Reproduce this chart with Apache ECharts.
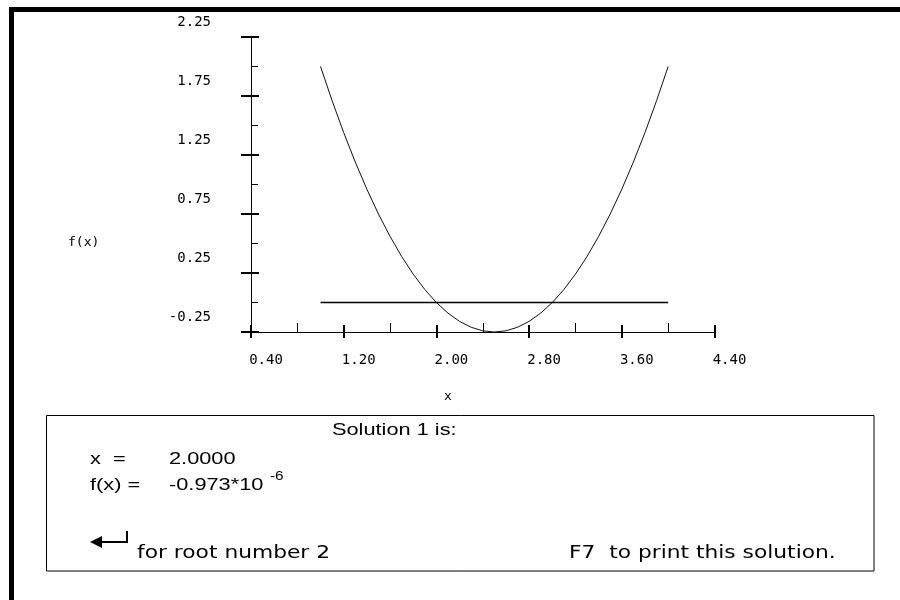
<!DOCTYPE html>
<html>
<head>
<meta charset="utf-8">
<script src="https://cdn.jsdelivr.net/npm/echarts@6/dist/echarts.min.js"></script>
<style>html,body{margin:0;padding:0;background:#fff}#c{width:900px;height:600px}</style>
</head>
<body>
<div id="c"></div>
<script>
// Data
const xValues = [1.0,1.1,1.2,1.3,1.4,1.5,1.6,1.7,1.8,1.9,2.0,2.1,2.2,2.3,2.4,2.5,2.6,2.7,2.8,2.9,3.0,3.1,3.2,3.3,3.4,3.5,3.6,3.7,3.8,3.9,4.0];
const fValues = [2.00,1.71,1.44,1.19,0.96,0.75,0.56,0.39,0.24,0.11,0.00,-0.09,-0.16,-0.21,-0.24,-0.25,-0.24,-0.21,-0.16,-0.09,0.00,0.11,0.24,0.39,0.56,0.75,0.96,1.19,1.44,1.71,2.00];
const zeroLineX = [1.0, 4.0];
const zeroLineY = [0, 0];
const xTickLabels = ['0.40','1.20','2.00','2.80','3.60','4.40'];
const yTickLabels = ['-0.25','0.25','0.75','1.25','1.75','2.25'];
const xAxisName = 'x';
const yAxisName = 'f(x)';
const solutionTitle = 'Solution 1 is:';
const solutionX = '2.0000';
const solutionF = '-0.973*10';
const solutionExp = '-6';
const nextHint = 'for root number 2';
const printHint = 'F7  to print this solution.';

const curveData = xValues.map((x, i) => [x, fValues[i]]);
const zeroData = zeroLineX.map((x, i) => [x, zeroLineY[i]]);

const mono = 'DejaVu Sans Mono';
const xMin = parseFloat(xTickLabels[0]), xMax = parseFloat(xTickLabels[xTickLabels.length-1]);
const yMin = parseFloat(yTickLabels[0]), yMax = parseFloat(yTickLabels[yTickLabels.length-1]);
const xStep = parseFloat(xTickLabels[1]) - xMin;
const yStep = parseFloat(yTickLabels[1]) - yMin;

const chart = echarts.init(document.getElementById('c'), null, {renderer: 'canvas'});
const SX = 1.28;
function txt(x, y, s, font, size, extra) {
  return Object.assign({
    type: 'text', x: x, y: y, scaleX: SX, scaleY: 1,
    style: {text: s, x: 0, y: 0, fill: '#000', font: size + 'px "' + font + '"', textAlign: 'left', textVerticalAlign: 'middle'}
  }, extra || {});
}
chart.setOption({
  animation: false,
  backgroundColor: '#fff',
  grid: {left: 251, top: 37, width: 463.5, height: 295, containLabel: false},
  xAxis: [{
    type: 'value', min: xMin, max: xMax, interval: xStep, position: 'bottom',
    axisLine: {show: true, onZero: false, lineStyle: {color: '#000', width: 1}},
    axisTick: {show: true, inside: true, length: 7, lineStyle: {color: '#000', width: 2}},
    minorTick: {show: true, splitNumber: 2, length: 9, lineStyle: {color: '#000', width: 1}},
    splitLine: {show: false}, minorSplitLine: {show: false},
    axisLabel: {show: true, margin: 21, padding: [0,0,0,30], color: '#000', fontFamily: mono, fontSize: 14,
      formatter: v => xTickLabels[Math.round((v - xMin) / xStep)] || ''}
  }, {
    type: 'value', min: xMin, max: xMax, interval: xStep, position: 'bottom',
    axisLine: {show: false, onZero: false},
    axisTick: {show: true, inside: false, length: 6, lineStyle: {color: '#000', width: 2}},
    splitLine: {show: false}, axisLabel: {show: false}
  }],
  yAxis: [{
    type: 'value', min: yMin, max: yMax, interval: yStep, position: 'left',
    axisLine: {show: true, onZero: false, lineStyle: {color: '#000', width: 1}},
    axisTick: {show: true, inside: true, length: 8, lineStyle: {color: '#000', width: 2}},
    minorTick: {show: true, splitNumber: 2, length: 7, lineStyle: {color: '#000', width: 1}},
    splitLine: {show: false}, minorSplitLine: {show: false},
    axisLabel: {show: true, margin: 40, verticalAlign: 'bottom', lineHeight: 30, color: '#000', fontFamily: mono, fontSize: 14,
      formatter: v => yTickLabels[Math.round((v - yMin) / yStep)] || ''}
  }, {
    type: 'value', min: yMin, max: yMax, interval: yStep, position: 'left',
    axisLine: {show: false, onZero: false},
    axisTick: {show: true, inside: false, length: 10, lineStyle: {color: '#000', width: 2}},
    splitLine: {show: false}, axisLabel: {show: false}
  }],
  series: [{
    type: 'line', data: curveData, showSymbol: false, symbol: 'none', smooth: false,
    lineStyle: {color: '#111', width: 1}, xAxisIndex: 0, yAxisIndex: 0, z: 3
  }, {
    type: 'line', data: zeroData, showSymbol: false, symbol: 'none',
    lineStyle: {color: '#000', width: 1.5}, xAxisIndex: 0, yAxisIndex: 0, z: 2
  }],
  graphic: [
    {type: 'rect', shape: {x: 11.5, y: 9.5, width: 1000, height: 700}, style: {fill: null, stroke: '#000', lineWidth: 5}, silent: true},
    {type: 'rect', shape: {x: 46.5, y: 415.5, width: 827.5, height: 155.5}, style: {fill: null, stroke: '#000', lineWidth: 1}, silent: true},
    {type: 'text', x: 68, y: 243, style: {text: yAxisName, fill: '#000', font: '13px "' + mono + '"', textAlign: 'left', textVerticalAlign: 'middle'}},
    {type: 'text', x: 448, y: 397, style: {text: xAxisName, fill: '#000', font: '13px "' + mono + '"', textAlign: 'center', textVerticalAlign: 'middle'}},
    txt(332, 430, solutionTitle, 'Liberation Sans', 17),
    txt(90, 459, 'x  =', 'Liberation Sans', 17),
    txt(169, 459, solutionX, 'Liberation Sans', 17),
    txt(90, 485, 'f(x) =', 'Liberation Sans', 17),
    txt(169, 485, solutionF, 'Liberation Sans', 17),
    txt(270, 477, solutionExp, 'Liberation Sans', 12),
    {type: 'polyline', shape: {points: [[127, 531], [127, 542], [100, 542]]}, style: {stroke: '#000', lineWidth: 2, fill: null}},
    {type: 'polygon', shape: {points: [[90, 542], [102, 536], [102, 548]]}, style: {fill: '#000'}},
    txt(137, 554, nextHint, 'DejaVu Sans', 17),
    txt(569, 554, printHint, 'DejaVu Sans', 17)
  ]
});
</script>
</body>
</html>
